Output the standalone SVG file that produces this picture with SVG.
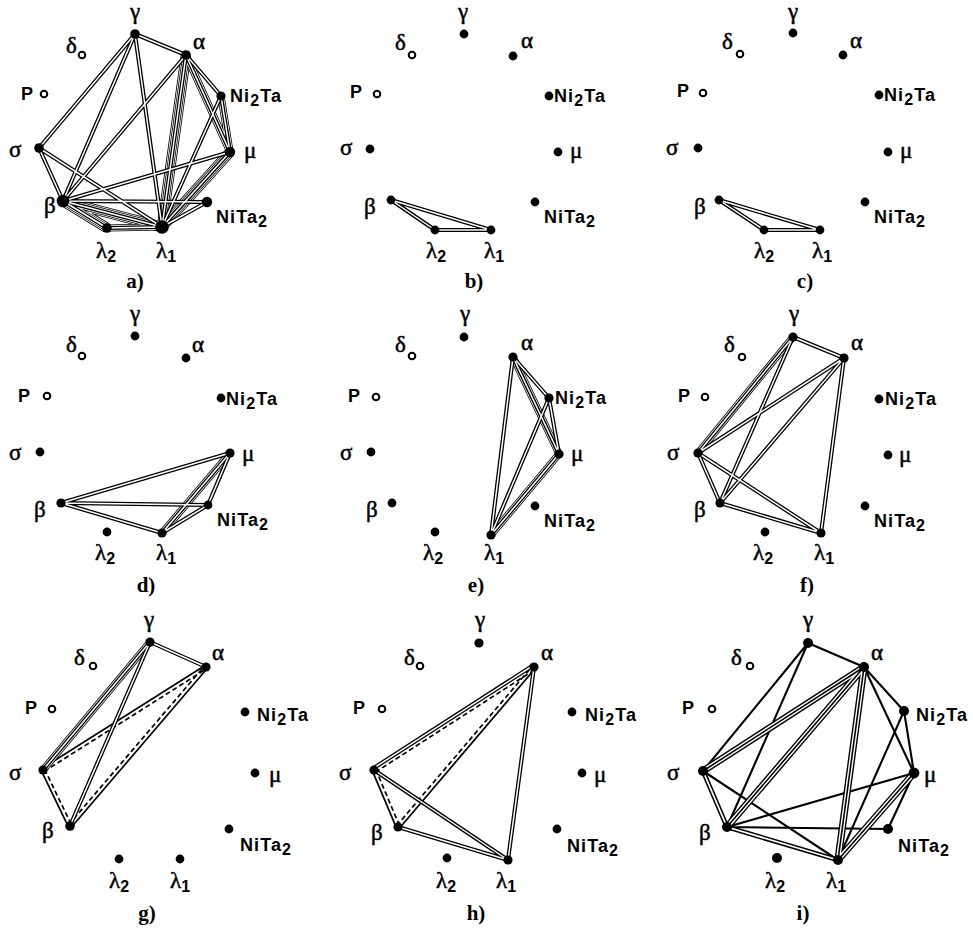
<svg xmlns="http://www.w3.org/2000/svg" width="973" height="940" viewBox="0 0 973 940">
<style>
.g{font-family:"Liberation Serif","DejaVu Serif",serif;font-size:23px;fill:#000;stroke:#000;stroke-width:0.5}
.s{font-family:"Liberation Sans",Arial,sans-serif;font-weight:bold;font-size:18px;letter-spacing:1.1px;fill:#000;stroke:none}
.sub{font-family:"Liberation Sans",Arial,sans-serif;font-weight:bold;font-size:16px;stroke:none}
.cap{font-family:"Liberation Serif","DejaVu Serif",serif;font-weight:bold;font-size:21px;text-anchor:middle;fill:#000}
.m{text-anchor:middle}
.n{fill:#000}
.o{fill:#fff;stroke:#000;stroke-width:2}
use{fill:none}
.b3k{stroke:#000;stroke-width:10.4}
.b3w{stroke:#fff;stroke-width:8.8}
.b2k{stroke:#000;stroke-width:7.2}
.b2w{stroke:#fff;stroke-width:5.6}
.dk{stroke:#000;stroke-width:4.1}
.dw{stroke:#fff;stroke-width:1.5}
.sl{stroke:#000;stroke-width:1.7}
.dash{stroke:#000;stroke-width:1.7;stroke-dasharray:5 3}
.ik{stroke:#000;stroke-width:2.1}
.idk{stroke:#000;stroke-width:4.8}
.idw{stroke:#fff;stroke-width:1.8}
.itk{stroke:#000;stroke-width:7.2}
.itw{stroke:#fff;stroke-width:4.4}
.itc{stroke:#000;stroke-width:1.6}
</style>
<defs>
<path id="a1" d="M135 34L186 55M135 34L39 148M135 34L63 201M135 34L162 227M186 55L63 201M186 55L221 96M221 96L162 227M230 152L63 201M207 202L162 227M63 201L207 202M39 148L63 201M39 148L162 227"/>
<path id="a2" d="M186 55L230 152M221 96L230 152M107 228L162 227"/>
<path id="a3" d="M186 55L162 227M230 152L162 227M63 201L107 228M63 201L162 227"/>
<path id="b1" d="M391 200L435 230M391 200L491 230M435 230L491 230"/>
<path id="c1" d="M719 200L764 230M719 200L820 230M764 230L820 230"/>
<path id="d1" d="M61 503L230 453M61 503L208 505M61 503L162 533M162 533L208 505M208 505L230 453"/>
<path id="d2" d="M162 533L230 453"/>
<path id="e1" d="M513 357L491 535M513 357L549 398M549 398L559 454M549 398L491 535"/>
<path id="e2" d="M513 357L559 454M559 454L491 535"/>
<path id="f1" d="M793 337L844 358M793 337L720 503M698 453L844 358M720 503L844 358M844 358L821 533M698 453L720 503M698 453L821 533M720 503L821 533"/>
<path id="f2" d="M793 337L698 453"/>
<path id="g1" d="M150 642L206 667M150 642L70 826"/>
<path id="g2" d="M150 642L43 770"/>
<path id="gs" d="M42 768.5L205 665.5M71.4 827.2L207.4 668.2M41.4 770.8L68.4 826.8"/>
<path id="gd" d="M44 771.5L207 668.5M68.6 824.8L204.6 665.8M44.6 769.2L71.6 825.2"/>
<path id="h1" d="M373 768.5L533 665.5M374 770L508 860M398 827L508 860M534 667L508 860"/>
<path id="hs" d="M399.4 828.2L535.4 668.2M372.3 770.7L396.3 827.7"/>
<path id="hd" d="M375.4 772.2L535.4 669.2M396.6 825.8L532.6 665.8M375.7 769.3L399.7 826.3"/>
<path id="is" d="M808 643L864 667M808 643L703 771M808 643L727 827M864 667L904 711M864 667L914 773M904 711L914 773M904 711L838 860M703 771L838 860M727 827L914 773M727 827L888 829M914 773L888 829"/>
<path id="i2" d="M703 771L727 827M727 827L838 860"/>
<path id="i3" d="M703 771L864 667M727 827L864 667M864 667L838 860M914 773L838 860"/>
<clipPath id="cg"><rect x="0" y="600" width="312" height="200"/></clipPath>
<clipPath id="ch"><rect x="320" y="600" width="318" height="200"/></clipPath>
</defs>

<g id="connectors">
<g id="conn-a">
<use href="#a3" class="b3k"/><use href="#a3" class="b3w"/>
<use href="#a3" class="b2k"/><use href="#a2" class="b2k"/>
<use href="#a3" class="b2w"/><use href="#a2" class="b2w"/>
<use href="#a3" class="dk"/><use href="#a2" class="dk"/><use href="#a1" class="dk"/>
<use href="#a3" class="dw"/><use href="#a2" class="dw"/><use href="#a1" class="dw"/>
</g>
<g id="conn-b"><use href="#b1" class="dk"/><use href="#b1" class="dw"/></g>
<g id="conn-c"><use href="#c1" class="dk"/><use href="#c1" class="dw"/></g>
<g id="conn-d">
<use href="#d2" class="b2k"/><use href="#d2" class="b2w"/>
<use href="#d2" class="dk"/><use href="#d1" class="dk"/>
<use href="#d2" class="dw"/><use href="#d1" class="dw"/>
</g>
<g id="conn-e">
<use href="#e2" class="b2k"/><use href="#e2" class="b2w"/>
<use href="#e2" class="dk"/><use href="#e1" class="dk"/>
<use href="#e2" class="dw"/><use href="#e1" class="dw"/>
</g>
<g id="conn-f">
<use href="#f2" class="b2k"/><use href="#f2" class="b2w"/>
<use href="#f2" class="dk"/><use href="#f1" class="dk"/>
<use href="#f2" class="dw"/><use href="#f1" class="dw"/>
</g>
<g id="conn-g">
<use href="#gs" class="sl"/><use href="#gd" class="dash"/>
<use href="#g2" class="b2k"/><use href="#g2" class="b2w"/>
<use href="#g2" class="dk"/><use href="#g1" class="dk"/>
<use href="#g2" class="dw"/><use href="#g1" class="dw"/>
</g>
<g id="conn-h">
<use href="#hs" class="sl"/><use href="#hd" class="dash"/>
<use href="#h1" class="dk"/><use href="#h1" class="dw"/>
</g>
<g id="conn-i">
<use href="#is" class="ik"/>
<use href="#i3" class="itk"/><use href="#i3" class="itw"/><use href="#i3" class="itc"/>
<use href="#i2" class="idk"/><use href="#i2" class="idw"/>
</g>
</g>

<g id="panel-a">
<g id="a-gamma"><circle class="n" cx="135" cy="34" r="4.8"/><text class="g m" x="135" y="19">γ</text></g>
<g id="a-alpha"><circle class="n" cx="186" cy="55" r="4.8"/><text class="g" x="193" y="49">α</text></g>
<g id="a-Ni2Ta"><circle class="n" cx="221" cy="96" r="4.6"/><text class="s" x="230" y="102">Ni<tspan class="sub" dy="4">2</tspan><tspan dy="-4">Ta</tspan></text></g>
<g id="a-mu"><circle class="n" cx="230" cy="152" r="5.2"/><text class="g" x="244" y="158">μ</text></g>
<g id="a-NiTa2"><circle class="n" cx="207" cy="202" r="5.2"/><text class="s" x="216" y="223">NiTa<tspan class="sub" dy="4">2</tspan></text></g>
<g id="a-lambda1"><circle class="n" cx="162" cy="227" r="6.8"/><text class="g" x="156" y="258">λ<tspan class="sub" dy="4">1</tspan></text></g>
<g id="a-lambda2"><circle class="n" cx="107" cy="228" r="4.8"/><text class="g" x="96" y="258">λ<tspan class="sub" dy="4">2</tspan></text></g>
<g id="a-beta"><circle class="n" cx="63" cy="201" r="6.3"/><text class="g" x="44" y="213">β</text></g>
<g id="a-sigma"><circle class="n" cx="39" cy="148" r="4.8"/><text class="g" x="9" y="157">σ</text></g>
<g id="a-P"><circle class="o" cx="44" cy="94" r="3.3"/><text class="s" x="21" y="100">P</text></g>
<g id="a-delta"><circle class="o" cx="82" cy="55" r="3.3"/><text class="g" x="66" y="53">δ</text></g>
<text class="cap" x="135" y="288">a)</text>
</g>

<g id="panel-b">
<g id="b-gamma"><circle class="n" cx="464" cy="34" r="4.4"/><text class="g m" x="463" y="19">γ</text></g>
<g id="b-alpha"><circle class="n" cx="513" cy="56" r="4.4"/><text class="g" x="521" y="48">α</text></g>
<g id="b-Ni2Ta"><circle class="n" cx="549" cy="96" r="4.4"/><text class="s" x="554" y="102">Ni<tspan class="sub" dy="4">2</tspan><tspan dy="-4">Ta</tspan></text></g>
<g id="b-mu"><circle class="n" cx="558" cy="152" r="4.4"/><text class="g" x="570" y="158">μ</text></g>
<g id="b-NiTa2"><circle class="n" cx="535" cy="202" r="4.4"/><text class="s" x="544" y="223">NiTa<tspan class="sub" dy="4">2</tspan></text></g>
<g id="b-lambda1"><circle class="n" cx="491" cy="230" r="4.4"/><text class="g" x="484" y="258">λ<tspan class="sub" dy="4">1</tspan></text></g>
<g id="b-lambda2"><circle class="n" cx="435" cy="230" r="4.4"/><text class="g" x="426" y="258">λ<tspan class="sub" dy="4">2</tspan></text></g>
<g id="b-beta"><circle class="n" cx="391" cy="200" r="4.4"/><text class="g" x="364" y="214">β</text></g>
<g id="b-sigma"><circle class="n" cx="370" cy="149" r="4.4"/><text class="g" x="340" y="155">σ</text></g>
<g id="b-P"><circle class="o" cx="377" cy="94" r="3.3"/><text class="s" x="350" y="98">P</text></g>
<g id="b-delta"><circle class="o" cx="412" cy="55" r="3.3"/><text class="g" x="395" y="50">δ</text></g>
<text class="cap" x="474" y="288">b)</text>
</g>

<g id="panel-c">
<g id="c-gamma"><circle class="n" cx="793" cy="33" r="4.4"/><text class="g m" x="793" y="19">γ</text></g>
<g id="c-alpha"><circle class="n" cx="843" cy="55" r="4.4"/><text class="g" x="850" y="48">α</text></g>
<g id="c-Ni2Ta"><circle class="n" cx="879" cy="95" r="4.4"/><text class="s" x="884" y="101">Ni<tspan class="sub" dy="4">2</tspan><tspan dy="-4">Ta</tspan></text></g>
<g id="c-mu"><circle class="n" cx="888" cy="152" r="4.4"/><text class="g" x="900" y="158">μ</text></g>
<g id="c-NiTa2"><circle class="n" cx="865" cy="202" r="4.4"/><text class="s" x="874" y="223">NiTa<tspan class="sub" dy="4">2</tspan></text></g>
<g id="c-lambda1"><circle class="n" cx="820" cy="230" r="4.4"/><text class="g" x="812" y="258">λ<tspan class="sub" dy="4">1</tspan></text></g>
<g id="c-lambda2"><circle class="n" cx="764" cy="230" r="4.4"/><text class="g" x="754" y="258">λ<tspan class="sub" dy="4">2</tspan></text></g>
<g id="c-beta"><circle class="n" cx="719" cy="200" r="4.4"/><text class="g" x="694" y="214">β</text></g>
<g id="c-sigma"><circle class="n" cx="698" cy="148" r="4.4"/><text class="g" x="666" y="155">σ</text></g>
<g id="c-P"><circle class="o" cx="703" cy="93" r="3.3"/><text class="s" x="677" y="97">P</text></g>
<g id="c-delta"><circle class="o" cx="740" cy="54" r="3.3"/><text class="g" x="722" y="49">δ</text></g>
<text class="cap" x="805" y="288">c)</text>
</g>

<g id="panel-d">
<g id="d-gamma"><circle class="n" cx="135" cy="336" r="4.4"/><text class="g m" x="135" y="321">γ</text></g>
<g id="d-alpha"><circle class="n" cx="186" cy="358" r="4.4"/><text class="g" x="192" y="352">α</text></g>
<g id="d-Ni2Ta"><circle class="n" cx="221" cy="398" r="4.4"/><text class="s" x="226" y="405">Ni<tspan class="sub" dy="4">2</tspan><tspan dy="-4">Ta</tspan></text></g>
<g id="d-mu"><circle class="n" cx="230" cy="453" r="4.6"/><text class="g" x="242" y="461">μ</text></g>
<g id="d-NiTa2"><circle class="n" cx="208" cy="505" r="4.4"/><text class="s" x="217" y="526">NiTa<tspan class="sub" dy="4">2</tspan></text></g>
<g id="d-lambda1"><circle class="n" cx="162" cy="533" r="4.6"/><text class="g" x="156" y="560">λ<tspan class="sub" dy="4">1</tspan></text></g>
<g id="d-lambda2"><circle class="n" cx="107" cy="532" r="4.4"/><text class="g" x="95" y="560">λ<tspan class="sub" dy="4">2</tspan></text></g>
<g id="d-beta"><circle class="n" cx="61" cy="503" r="4.6"/><text class="g" x="34" y="517">β</text></g>
<g id="d-sigma"><circle class="n" cx="40" cy="452" r="4.4"/><text class="g" x="9" y="460">σ</text></g>
<g id="d-P"><circle class="o" cx="47" cy="396" r="3.3"/><text class="s" x="18" y="402">P</text></g>
<g id="d-delta"><circle class="o" cx="82" cy="356" r="3.3"/><text class="g" x="66" y="352">δ</text></g>
<text class="cap" x="146" y="592">d)</text>
</g>

<g id="panel-e">
<g id="e-gamma"><circle class="n" cx="464" cy="337" r="4.4"/><text class="g m" x="465" y="321">γ</text></g>
<g id="e-alpha"><circle class="n" cx="513" cy="357" r="4.6"/><text class="g" x="521" y="350">α</text></g>
<g id="e-Ni2Ta"><circle class="n" cx="549" cy="398" r="4.6"/><text class="s" x="555" y="404">Ni<tspan class="sub" dy="4">2</tspan><tspan dy="-4">Ta</tspan></text></g>
<g id="e-mu"><circle class="n" cx="559" cy="454" r="4.6"/><text class="g" x="571" y="461">μ</text></g>
<g id="e-NiTa2"><circle class="n" cx="535" cy="506" r="4.4"/><text class="s" x="544" y="527">NiTa<tspan class="sub" dy="4">2</tspan></text></g>
<g id="e-lambda1"><circle class="n" cx="491" cy="535" r="4.6"/><text class="g" x="484" y="560">λ<tspan class="sub" dy="4">1</tspan></text></g>
<g id="e-lambda2"><circle class="n" cx="435" cy="532" r="4.4"/><text class="g" x="423" y="560">λ<tspan class="sub" dy="4">2</tspan></text></g>
<g id="e-beta"><circle class="n" cx="392" cy="503" r="4.4"/><text class="g" x="366" y="517">β</text></g>
<g id="e-sigma"><circle class="n" cx="371" cy="452" r="4.4"/><text class="g" x="340" y="460">σ</text></g>
<g id="e-P"><circle class="o" cx="376" cy="397" r="3.3"/><text class="s" x="348" y="402">P</text></g>
<g id="e-delta"><circle class="o" cx="412" cy="356" r="3.3"/><text class="g" x="395" y="352">δ</text></g>
<text class="cap" x="476" y="592">e)</text>
</g>

<g id="panel-f">
<g id="f-gamma"><circle class="n" cx="793" cy="337" r="4.6"/><text class="g m" x="794" y="321">γ</text></g>
<g id="f-alpha"><circle class="n" cx="844" cy="358" r="4.6"/><text class="g" x="851" y="350">α</text></g>
<g id="f-Ni2Ta"><circle class="n" cx="879" cy="399" r="4.4"/><text class="s" x="885" y="405">Ni<tspan class="sub" dy="4">2</tspan><tspan dy="-4">Ta</tspan></text></g>
<g id="f-mu"><circle class="n" cx="888" cy="455" r="4.4"/><text class="g" x="899" y="462">μ</text></g>
<g id="f-NiTa2"><circle class="n" cx="865" cy="506" r="4.4"/><text class="s" x="874" y="527">NiTa<tspan class="sub" dy="4">2</tspan></text></g>
<g id="f-lambda1"><circle class="n" cx="821" cy="533" r="4.6"/><text class="g" x="814" y="560">λ<tspan class="sub" dy="4">1</tspan></text></g>
<g id="f-lambda2"><circle class="n" cx="765" cy="532" r="4.4"/><text class="g" x="753" y="560">λ<tspan class="sub" dy="4">2</tspan></text></g>
<g id="f-beta"><circle class="n" cx="720" cy="503" r="4.6"/><text class="g" x="694" y="517">β</text></g>
<g id="f-sigma"><circle class="n" cx="698" cy="453" r="4.6"/><text class="g" x="667" y="460">σ</text></g>
<g id="f-P"><circle class="o" cx="705" cy="397" r="3.3"/><text class="s" x="678" y="402">P</text></g>
<g id="f-delta"><circle class="o" cx="742" cy="357" r="3.3"/><text class="g" x="724" y="352">δ</text></g>
<text class="cap" x="807" y="592">f)</text>
</g>

<g id="panel-g">
<g id="g-gamma"><circle class="n" cx="150" cy="642" r="4.6"/><text class="g m" x="149" y="627">γ</text></g>
<g id="g-alpha"><circle class="n" cx="206" cy="667" r="4.6"/><text class="g" x="212" y="660">α</text></g>
<g id="g-Ni2Ta"><circle class="n" cx="245" cy="712" r="4.4"/><text class="s" x="257" y="721" clip-path="url(#cg)">Ni<tspan class="sub" dy="4">2</tspan><tspan dy="-4">Ta</tspan></text></g>
<g id="g-mu"><circle class="n" cx="255" cy="773" r="4.4"/><text class="g" x="269" y="782">μ</text></g>
<g id="g-NiTa2"><circle class="n" cx="229" cy="829" r="4.4"/><text class="s" x="240" y="851">NiTa<tspan class="sub" dy="4">2</tspan></text></g>
<g id="g-lambda1"><circle class="n" cx="180" cy="859" r="4.4"/><text class="g" x="170" y="888">λ<tspan class="sub" dy="4">1</tspan></text></g>
<g id="g-lambda2"><circle class="n" cx="119" cy="859" r="4.4"/><text class="g" x="109" y="888">λ<tspan class="sub" dy="4">2</tspan></text></g>
<g id="g-beta"><circle class="n" cx="70" cy="826" r="4.8"/><text class="g" x="42" y="838">β</text></g>
<g id="g-sigma"><circle class="n" cx="43" cy="770" r="4.6"/><text class="g" x="9" y="780">σ</text></g>
<g id="g-P"><circle class="o" cx="52" cy="709" r="3.3"/><text class="s" x="25" y="714">P</text></g>
<g id="g-delta"><circle class="o" cx="93" cy="666" r="3.3"/><text class="g" x="74" y="665">δ</text></g>
<text class="cap" x="147" y="920">g)</text>
</g>

<g id="panel-h">
<g id="h-gamma"><circle class="n" cx="479" cy="643" r="4.6"/><text class="g m" x="480" y="627">γ</text></g>
<g id="h-alpha"><circle class="n" cx="534" cy="667" r="4.6"/><text class="g" x="541" y="660">α</text></g>
<g id="h-Ni2Ta"><circle class="n" cx="572" cy="712" r="4.4"/><text class="s" x="585" y="721" clip-path="url(#ch)">Ni<tspan class="sub" dy="4">2</tspan><tspan dy="-4">Ta</tspan></text></g>
<g id="h-mu"><circle class="n" cx="582" cy="773" r="4.4"/><text class="g" x="594" y="782">μ</text></g>
<g id="h-NiTa2"><circle class="n" cx="557" cy="829" r="4.4"/><text class="s" x="567" y="852">NiTa<tspan class="sub" dy="4">2</tspan></text></g>
<g id="h-lambda1"><circle class="n" cx="508" cy="860" r="4.6"/><text class="g" x="496" y="888">λ<tspan class="sub" dy="4">1</tspan></text></g>
<g id="h-lambda2"><circle class="n" cx="447" cy="858" r="4.4"/><text class="g" x="436" y="888">λ<tspan class="sub" dy="4">2</tspan></text></g>
<g id="h-beta"><circle class="n" cx="398" cy="827" r="4.6"/><text class="g" x="371" y="840">β</text></g>
<g id="h-sigma"><circle class="n" cx="374" cy="770" r="4.6"/><text class="g" x="339" y="780">σ</text></g>
<g id="h-P"><circle class="o" cx="382" cy="709" r="3.3"/><text class="s" x="353" y="714">P</text></g>
<g id="h-delta"><circle class="o" cx="420" cy="666" r="3.3"/><text class="g" x="404" y="665">δ</text></g>
<text class="cap" x="476" y="920">h)</text>
</g>

<g id="panel-i">
<g id="i-gamma"><circle class="n" cx="808" cy="643" r="5"/><text class="g m" x="808" y="627">γ</text></g>
<g id="i-alpha"><circle class="n" cx="864" cy="667" r="5"/><text class="g" x="871" y="660">α</text></g>
<g id="i-Ni2Ta"><circle class="n" cx="904" cy="711" r="5"/><text class="s" x="916" y="721" letter-spacing="0.4">Ni<tspan class="sub" dy="4">2</tspan><tspan dy="-4">Ta</tspan></text></g>
<g id="i-mu"><circle class="n" cx="914" cy="773" r="5.4"/><text class="g" x="924" y="782">μ</text></g>
<g id="i-NiTa2"><circle class="n" cx="888" cy="829" r="5"/><text class="s" x="898" y="852">NiTa<tspan class="sub" dy="4">2</tspan></text></g>
<g id="i-lambda1"><circle class="n" cx="838" cy="860" r="5"/><text class="g" x="826" y="888">λ<tspan class="sub" dy="4">1</tspan></text></g>
<g id="i-lambda2"><circle class="n" cx="777" cy="858" r="5"/><text class="g" x="765" y="888">λ<tspan class="sub" dy="4">2</tspan></text></g>
<g id="i-beta"><circle class="n" cx="727" cy="827" r="5"/><text class="g" x="699" y="840">β</text></g>
<g id="i-sigma"><circle class="n" cx="703" cy="771" r="5"/><text class="g" x="667" y="780">σ</text></g>
<g id="i-P"><circle class="o" cx="712" cy="709" r="3.3"/><text class="s" x="682" y="714">P</text></g>
<g id="i-delta"><circle class="o" cx="750" cy="666" r="3.3"/><text class="g" x="731" y="665">δ</text></g>
<text class="cap" x="803" y="920">i)</text>
</g>
</svg>
